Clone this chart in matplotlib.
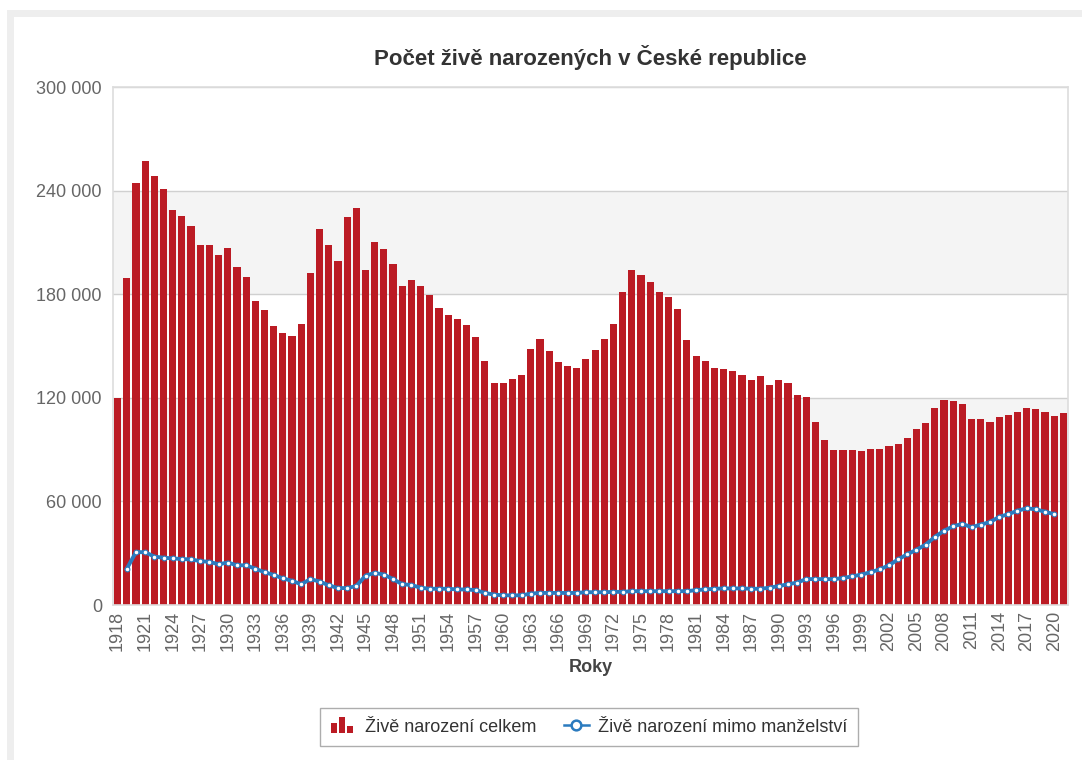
import numpy as np
import matplotlib
matplotlib.use("Agg")
import matplotlib.pyplot as plt
from matplotlib.patches import Rectangle
from matplotlib.lines import Line2D
from matplotlib.legend_handler import HandlerBase
from matplotlib.ticker import FuncFormatter

plt.rcParams['font.family'] = ['Liberation Sans', 'DejaVu Sans']

# Data
years = list(range(1918, 2022))

births_total = [
    120000, 189400, 244400, 257000, 248400, 241000, 228800, 225400, 219400, 208400,
    208400, 202800, 207000, 196000, 190200, 175800, 170600, 161400, 157600, 155800,
    163000, 192200, 217800, 208600, 199000, 225000, 230000, 193800, 210400, 206400,
    197400, 185000, 188000, 185000, 179800, 172200, 168000, 165600, 162200, 155000,
    141400, 128400, 128400, 130600, 133200, 148400, 154000, 147000, 140600, 138200,
    137000, 142600, 147400, 153800, 163000, 181400, 193800, 191400, 187000, 181400,
    178600, 171600, 153400, 144200, 141400, 137000, 136400, 135400, 133000, 130400,
    132400, 127600, 130200, 128800, 121400, 120600, 106200, 95800, 90000, 90000,
    90000, 89000, 90600, 90600, 92200, 93400, 97000, 101800, 105400, 114000,
    119000, 118000, 116600, 108000, 108000, 106200, 109000, 110000, 112000, 114000,
    113600, 111600, 109600, 111400,
]

# outside marriage, no value for 1918 and 2021
births_unmarried = [
    np.nan, 21000, 30600, 30600, 28000, 27400, 27000, 26600, 26400, 25400,
    25000, 23600, 24600, 23000, 23000, 21000, 19000, 17400, 15400, 14000,
    12000, 15000, 13600, 11400, 9800, 9800, 11000, 17000, 18600, 17600,
    15000, 12000, 11600, 10000, 9400, 9400, 9400, 9000, 9000, 8600,
    7000, 6000, 5600, 5600, 5600, 6600, 7000, 7000, 7000, 7000,
    7000, 7400, 7400, 7400, 7600, 7600, 8000, 8000, 8000, 8000,
    8000, 8000, 8000, 8600, 9000, 9400, 9600, 9600, 9600, 9400,
    9400, 10000, 11000, 12000, 13000, 15000, 15000, 15000, 15000, 15600,
    16600, 17600, 19000, 20600, 23000, 26400, 29400, 32000, 35000, 39400,
    43000, 45600, 47000, 45000, 46600, 48000, 51000, 52600, 54600, 56000,
    55400, 54000, 52600, np.nan,
]

title = "Počet živě narozených v České republice"
x_title = "Roky"
label_total = "Živě narození celkem"
label_unmarried = "Živě narození mimo manželství"

yticks = [0, 60000, 120000, 180000, 240000, 300000]

RED = "#bb1b24"
BLUE = "#2b7bbf"
TEXT = "#666666"


class BarIconHandler(HandlerBase):
    """Small three-bar icon like the one in the legend."""
    def create_artists(self, legend, orig_handle, xdescent, ydescent,
                       width, height, fontsize, trans):
        artists = []
        bw = width / 4.0
        for k, h in enumerate([0.6, 1.0, 0.4]):
            r = Rectangle((-xdescent + k * bw * 1.25, -ydescent - height * 0.1), bw,
                          height * 1.25 * h, facecolor=RED, edgecolor="none",
                          transform=trans)
            artists.append(r)
        return artists


fig = plt.figure(figsize=(10.82, 7.6), dpi=100)
ax = fig.add_axes([113 / 1082, 1 - 605 / 760, (1068 - 113) / 1082, (605 - 87) / 760])

# outer container frame
fig.patches.append(Rectangle((10 / 1082, -0.05), 1.2, (760 - 13) / 760 + 0.05,
                             transform=fig.transFigure, fill=False,
                             edgecolor="#eeeeee", lw=5, zorder=0))

x = np.arange(len(years))

# alternating bands
for lo in (60000, 180000):
    ax.axhspan(lo, lo + 60000, color="#f4f4f4", zorder=0, lw=0)
for yv in yticks[1:]:
    ax.axhline(yv, color="#d0d0d0", lw=1, zorder=1)

ax.bar(x, births_total, width=0.78, color=RED, zorder=2, label=label_total)
ax.plot(x, births_unmarried, color=BLUE, lw=2.8, marker="o", ms=3.4,
        mfc="white", mec=BLUE, mew=0.8, zorder=3, label=label_unmarried)

ax.set_xlim(-0.5, len(years) - 0.5)
ax.set_ylim(0, 300000)
ax.set_yticks(yticks)
ax.yaxis.set_major_formatter(FuncFormatter(lambda v, p: f"{int(v):,}".replace(",", " ")))
tick_pos = x[::3]
ax.set_xticks(tick_pos)
ax.set_xticklabels([str(years[i]) for i in tick_pos], rotation=90)
ax.tick_params(axis="both", length=0, labelsize=13, colors=TEXT)
ax.tick_params(axis="y", pad=8)
ax.tick_params(axis="x", pad=4)

for s in ax.spines.values():
    s.set_color("#dddddd")
    s.set_linewidth(1.2)

ax.set_title(title, fontsize=16, fontweight="bold", color="#333333", pad=16)
ax.set_xlabel(x_title, fontsize=13, fontweight="bold", color="#444444", labelpad=6)

handles = [Rectangle((0, 0), 1, 1, color=RED),
           Line2D([0], [0], color=BLUE, lw=1.8, marker="o", ms=7, mfc="white", mec=BLUE, mew=1.8)]
leg = fig.legend(handles, [label_total, label_unmarried], loc="center",
                 bbox_to_anchor=(589 / 1082, 1 - 727 / 760), ncol=2, fontsize=13,
                 frameon=True, fancybox=False, edgecolor="#999999",
                 handler_map={Rectangle: BarIconHandler()},
                 handlelength=1.4, handletextpad=0.5, columnspacing=1.5, borderpad=0.6)
leg.get_frame().set_linewidth(1.0)
for t in leg.get_texts():
    t.set_color("#333333")

fig.savefig("out.png", dpi=100)
